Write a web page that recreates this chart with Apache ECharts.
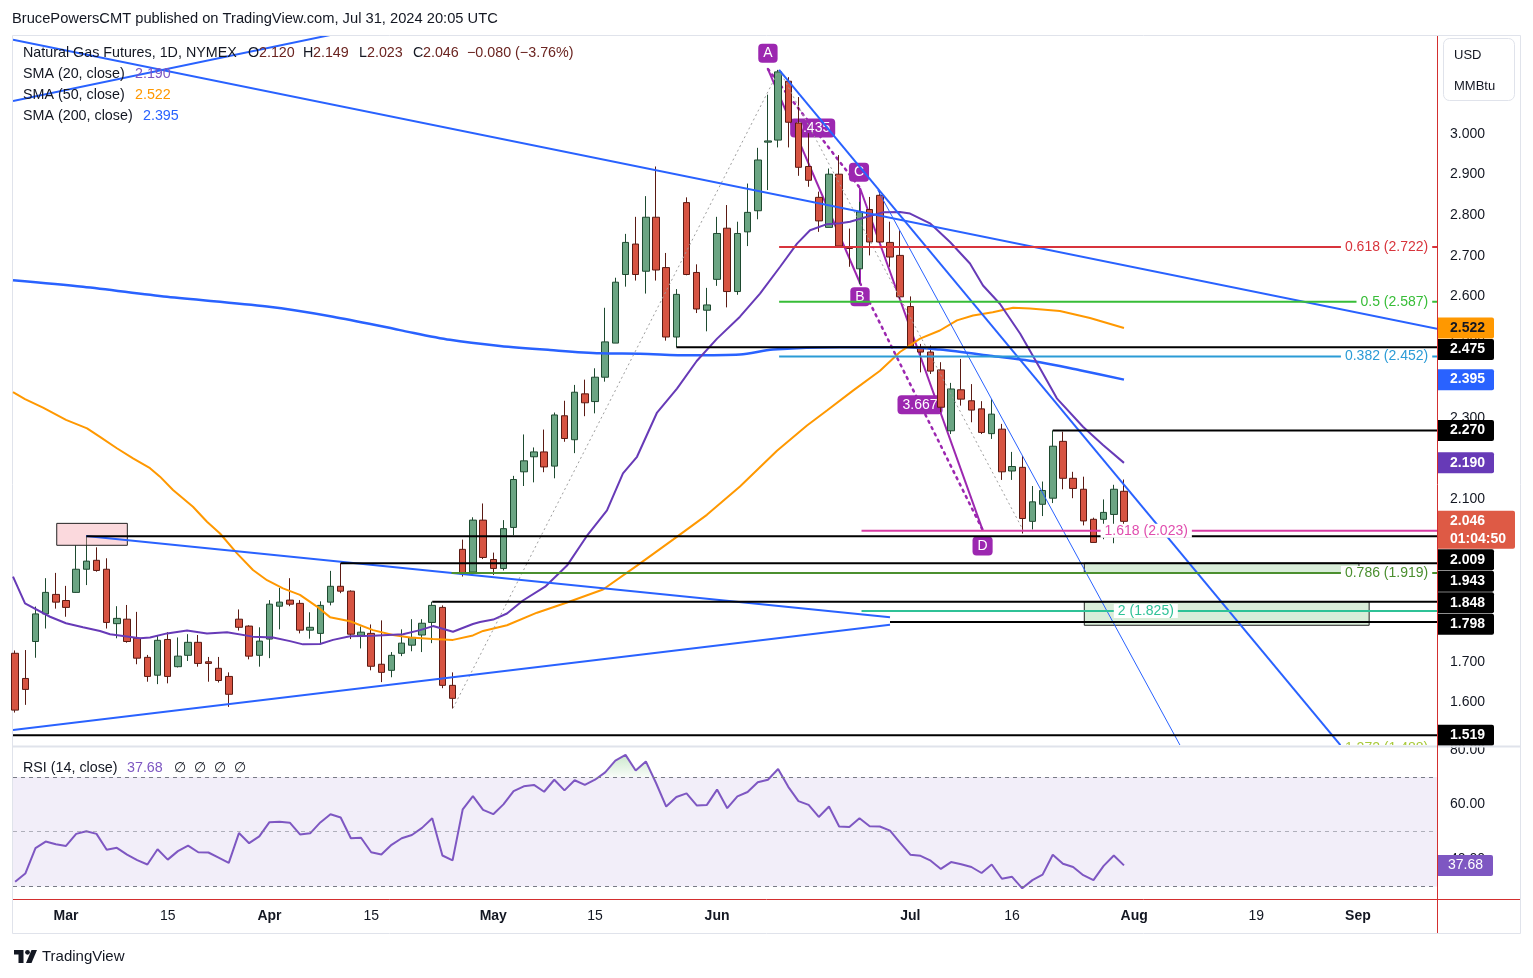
<!DOCTYPE html>
<html><head><meta charset="utf-8">
<script src="https://cdn.jsdelivr.net/npm/echarts@6/dist/echarts.min.js"></script>
<style>html,body{margin:0;padding:0;background:#fff;}#c{width:1533px;height:978px;}</style>
</head><body><div id="c"></div>
<script>
const FONT = '"Liberation Sans", Arial, sans-serif';
// ---------- data ----------
const xLabelIdx  = [5, 15, 25, 35, 47, 57, 69, 88, 98, 110, 122, 132];
const xLabelText = ['Mar','15','Apr','15','May','15','Jun','Jul','16','Aug','19','Sep'];
const monthLabels = ['Mar','Apr','May','Jun','Jul','Aug','Sep'];
const priceTicks = [1.6,1.7,1.8,1.9,2.0,2.1,2.2,2.3,2.4,2.5,2.6,2.7,2.8,2.9,3.0];
const rsiTicks = [40, 60, 80];
// daily bars, index 0 = Feb 23 2024 ... 109 = Jul 31 2024 : [open, high, low, close]
const ohlc = [
[1.721,1.728,1.575,1.581],[1.659,1.729,1.594,1.632],[1.750,1.836,1.710,1.818],[1.818,1.906,1.782,1.871],
[1.866,1.919,1.831,1.847],[1.851,1.887,1.811,1.834],[1.871,1.987,1.870,1.928],[1.928,2.009,1.889,1.948],
[1.950,1.982,1.922,1.925],[1.928,1.955,1.782,1.797],[1.794,1.837,1.758,1.807],[1.805,1.840,1.747,1.750],
[1.758,1.823,1.694,1.709],[1.711,1.717,1.651,1.664],[1.667,1.766,1.645,1.753],[1.755,1.773,1.647,1.664],
[1.688,1.760,1.686,1.714],[1.716,1.768,1.702,1.748],[1.748,1.766,1.688,1.696],[1.700,1.712,1.651,1.696],
[1.684,1.712,1.649,1.654],[1.664,1.674,1.589,1.620],[1.805,1.829,1.777,1.785],[1.788,1.790,1.706,1.714],
[1.716,1.785,1.688,1.751],[1.756,1.852,1.709,1.842],[1.837,1.882,1.780,1.847],[1.852,1.906,1.837,1.842],
[1.844,1.852,1.770,1.778],[1.778,1.822,1.757,1.785],[1.770,1.849,1.746,1.839],[1.847,1.924,1.839,1.886],
[1.886,1.943,1.869,1.874],[1.874,1.876,1.756,1.768],[1.765,1.787,1.733,1.773],[1.770,1.792,1.679,1.689],
[1.694,1.802,1.650,1.674],[1.679,1.724,1.662,1.716],[1.721,1.780,1.714,1.746],[1.741,1.805,1.726,1.760],
[1.766,1.805,1.724,1.795],[1.797,1.848,1.746,1.839],[1.834,1.839,1.635,1.642],[1.642,1.674,1.585,1.610],
[1.977,2.001,1.910,1.917],[1.921,2.056,1.917,2.049],[2.049,2.090,1.953,1.957],[1.952,1.969,1.914,1.930],
[1.930,2.049,1.925,2.028],[2.031,2.158,2.012,2.149],[2.168,2.260,2.133,2.195],[2.205,2.228,2.142,2.217],
[2.217,2.272,2.167,2.180],[2.182,2.314,2.152,2.308],[2.306,2.343,2.242,2.250],[2.247,2.382,2.214,2.364],
[2.360,2.395,2.305,2.338],[2.341,2.423,2.312,2.401],[2.401,2.572,2.390,2.488],[2.485,2.646,2.485,2.635],
[2.654,2.754,2.624,2.733],[2.729,2.796,2.639,2.654],[2.662,2.847,2.607,2.795],[2.795,2.920,2.639,2.665],
[2.671,2.707,2.491,2.500],[2.500,2.618,2.475,2.605],[2.831,2.844,2.652,2.654],[2.659,2.679,2.559,2.569],
[2.566,2.621,2.514,2.579],[2.642,2.796,2.626,2.755],[2.768,2.825,2.573,2.612],[2.612,2.784,2.604,2.755],
[2.759,2.878,2.724,2.807],[2.811,2.966,2.790,2.936],[2.980,3.097,2.862,2.983],[2.985,3.158,2.967,3.153],
[3.130,3.140,2.967,3.029],[3.027,3.091,2.897,2.918],[2.920,3.002,2.870,2.886],[2.844,2.858,2.759,2.786],
[2.770,2.915,2.770,2.901],[2.901,2.948,2.722,2.724],[2.722,2.767,2.673,2.718],[2.668,2.833,2.631,2.808],
[2.814,2.845,2.701,2.734],[2.849,2.862,2.732,2.734],[2.733,2.784,2.673,2.697],[2.701,2.763,2.594,2.599],
[2.575,2.600,2.477,2.477],[2.473,2.483,2.413,2.463],[2.463,2.479,2.409,2.416],[2.419,2.438,2.315,2.327],
[2.269,2.387,2.261,2.372],[2.370,2.446,2.331,2.347],[2.343,2.384,2.290,2.320],[2.323,2.342,2.261,2.265],
[2.262,2.347,2.249,2.310],[2.273,2.286,2.148,2.168],[2.170,2.217,2.148,2.181],[2.179,2.207,2.016,2.053],
[2.046,2.133,2.026,2.094],[2.088,2.144,2.059,2.122],[2.103,2.270,2.091,2.231],[2.243,2.267,2.125,2.152],
[2.152,2.168,2.103,2.127],[2.125,2.156,2.036,2.047],[2.051,2.055,1.994,1.994],[2.051,2.100,2.002,2.068],
[2.063,2.136,1.992,2.125],[2.120,2.149,2.023,2.046]
];
// moving averages: [bar index, value]
const sma20 = [[-0.21,1.910],[0.97,1.844],[3.43,1.811],[5,1.795],[6.67,1.785],[8.34,1.776],[9.33,1.768],[12.27,1.758],[13.26,1.760],[14.93,1.770],[16.9,1.777],[18.86,1.770],[20.83,1.773],[23.38,1.762],[25.35,1.760],[27.02,1.751],[28.3,1.743],[29.97,1.744],[31.25,1.754],[32.92,1.763],[35.18,1.764],[38.13,1.768],[39.8,1.778],[41.08,1.788],[43.04,1.774],[45,1.793],[45.7,1.798],[47,1.804],[48.35,1.819],[49.92,1.851],[52.1,1.885],[54.25,1.937],[56.2,2.010],[58.18,2.073],[59.75,2.164],[61.13,2.205],[63.1,2.314],[65.06,2.373],[67,2.441],[69,2.496],[71.25,2.550],[73.22,2.607],[75.2,2.673],[76.86,2.730],[78.14,2.763],[79.8,2.778],[81.1,2.780],[82.07,2.784],[83.74,2.796],[85.31,2.807],[86.98,2.808],[87.97,2.804],[89.93,2.780],[91.9,2.734],[93.86,2.681],[95.14,2.627],[96.8,2.582],[98.8,2.508],[100.7,2.425],[102.4,2.349],[104.97,2.279],[106.94,2.234],[109,2.190]];
const sma50 = [[-0.21,2.364],[0.97,2.347],[2.74,2.326],[5,2.296],[7.07,2.275],[8.34,2.254],[10,2.226],[11.59,2.201],[13.26,2.177],[14.24,2.156],[15.52,2.123],[17.48,2.082],[18.86,2.045],[20.14,2.016],[21.81,1.967],[23.38,1.926],[24.76,1.901],[26.33,1.881],[28,1.865],[29.67,1.836],[30.95,1.810],[32.92,1.800],[35.18,1.778],[37.14,1.766],[38.81,1.760],[41.08,1.756],[43.04,1.754],[45,1.765],[46,1.776],[48.35,1.790],[51.3,1.821],[54.25,1.846],[57.79,1.878],[61.13,1.937],[64.67,2.001],[68,2.062],[71.25,2.132],[74.89,2.220],[77.84,2.282],[79.8,2.319],[82.36,2.368],[85.02,2.417],[86.98,2.463],[88.95,2.496],[90.9,2.516],[92.58,2.541],[94.16,2.553],[96.1,2.561],[98.1,2.572],[99.76,2.570],[102.7,2.564],[105.66,2.547],[109,2.522]];
const sma200 = [[-0.21,2.640],[6.67,2.624],[14.93,2.599],[24.76,2.575],[31.25,2.550],[37.83,2.517],[42.75,2.493],[47.66,2.478],[52.58,2.468],[57.5,2.460],[61.4,2.459],[66.34,2.455],[71.25,2.457],[74.5,2.469],[81.08,2.475],[87.67,2.475],[90.9,2.469],[95.83,2.454],[100.74,2.438],[104.67,2.418],[109,2.395]];
const rsi = [31.7,34.7,44.0,46.4,45.4,44.8,49.2,50.2,49.2,43.4,44.1,41.6,39.6,38.0,43.6,39.8,42.9,44.9,42.5,42.4,
40.5,38.6,49.5,45.8,48.3,53.5,53.6,53.3,49.0,49.4,53.4,56.4,55.2,47.6,47.8,42.5,41.7,45.2,47.6,48.8,
51.4,54.9,41.3,39.5,58.2,63.0,58.0,56.4,60.0,64.8,66.6,67.1,64.6,69.0,65.1,68.8,67.1,69.0,71.7,76.0,
78.1,72.4,75.7,67.8,59.2,62.7,64.0,59.6,59.8,65.4,58.6,62.9,64.5,68.1,69.0,72.9,66.4,61.2,59.8,55.4,
59.2,51.9,51.7,54.9,52.0,51.9,50.4,45.9,41.6,41.2,39.4,36.4,38.9,38.1,37.1,34.9,38.0,32.8,33.5,29.3,
32.3,34.3,41.6,38.3,37.1,34.1,32.3,37.5,41.3,37.68];
// drawings: [index1, price1, index2, price2]
const blueTrend = [[-0.21,3.081,31,3.244],[-0.21,3.232,139.77,2.52],[-0.21,1.532,86.0,1.791],[6.97,2.010,86.0,1.810],[75.1,3.158,131,1.473]];
const blueThin = [[84.8,2.862,115,1.472]];
const grayDotted = [[43.05,1.586,75.1,3.158],[75.1,3.158,99.07,2.025]];
const patternSolid = [[74.0,3.160,83.05,2.633],[83.05,2.633,83.05,2.867],[83.05,2.867,95.1,2.025]];
const patternDotted = [[74.0,3.160,83.05,2.867],[83.05,2.633,95.1,2.025]];
const patternLabelPos = [[74.0,3.199],[78.4,3.015],[82.95,2.906],[83.05,2.599],[88.95,2.333],[95.1,1.985]];
const patternLabelText = ['A','0.435','C','B','3.667','D'];
const pinkRect = [[4.09,2.041,11.03,1.987]];
const greenRects = [[105.1,1.943,132.1,1.919],[105.1,1.848,133.1,1.790]];
// horizontal levels: [price, start index]
const blackLevels = [[2.475,65],[2.270,102],[2.009,7],[1.943,32],[1.848,41],[1.798,86],[1.519,-0.21]];
const fibLevels = [[2.722,75.1],[2.587,75.1],[2.452,75.1],[1.919,42.9],[2.023,83.2],[1.825,83.2]];
const fibColors = ['#D8343C','#37BD37','#2B9BD6','#4B8F2F','#D83CA4','#2FC297'];
const fibLabelText = ['0.618 (2.722)','0.5 (2.587)','0.382 (2.452)','0.786 (1.919)','1.618 (2.023)','2 (1.825)','1.272 (1.488)'];
const fibLabelPos = [[139.3,2.722],[139.3,2.587],[139.3,2.452],[139.3,1.919],[106.7,2.023],[108.0,1.825],[139.3,1.488]];
const fibLabelAlign = ['right','right','right','right','left','left','right'];
const fibLabelColors = ['#D8343C','#37BD37','#2B9BD6','#4B8F2F','#E04DAE','#2FC297','#A8C93A'];
// right axis price tags
const tagValues = [2.522,2.475,2.395,2.270,2.190,2.046,2.009,1.943,1.848,1.798,1.519];
const tagBg = ['#FF9800','#000000','#2962FF','#000000','#673AB7','#DE5A45','#000000','#000000','#000000','#000000','#000000'];
const tagFg = ['#131722','#ffffff','#ffffff','#ffffff','#ffffff','#ffffff','#ffffff','#ffffff','#ffffff','#ffffff','#ffffff'];
const countdownText = '01:04:50';
const rsiTag = [37.68];

// ---------- scales ----------
const XMIN = -0.21, XMAX = 139.77, PMIN = 1.4951, PMAX = 3.2414, RMIN = 25.4, RMAX = 80.6;

function segSeries(data, style, z) {
  return {type:'custom', xAxisIndex:0, yAxisIndex:0, clip:true, silent:true, z, data,
    renderItem:(p, api) => {
      const a = api.coord([api.value(0), api.value(1)]), b = api.coord([api.value(2), api.value(3)]);
      return {type:'line', shape:{x1:a[0], y1:a[1], x2:b[0], y2:b[1]}, style:Object.assign({stroke:'#000', lineWidth:1, fill:null}, style)};
    }};
}
function rectSeries(data, style, z) {
  return {type:'custom', xAxisIndex:0, yAxisIndex:0, clip:true, silent:true, z, data,
    renderItem:(p, api) => {
      const a = api.coord([api.value(0), api.value(1)]), b = api.coord([api.value(2), api.value(3)]);
      return {type:'rect', shape:{x:a[0], y:a[1], width:b[0]-a[0], height:b[1]-a[1]}, style:Object.assign({}, style)};
    }};
}
function levelSeries(data, colors, width, z) {
  return {type:'custom', xAxisIndex:0, yAxisIndex:0, clip:true, silent:true, z, data,
    renderItem:(p, api) => {
      const a = api.coord([api.value(1), api.value(0)]), b = api.coord([XMAX, api.value(0)]);
      const c = Array.isArray(colors) ? colors[p.dataIndex] : colors;
      return {type:'line', shape:{x1:a[0], y1:a[1], x2:b[0], y2:b[1]}, style:{stroke:c, lineWidth:width}};
    }};
}

const series = [];
series.push(segSeries(patternSolid, {stroke:'#9C27B0', lineWidth:2}, 2));
series.push(segSeries(patternDotted, {stroke:'#9C27B0', lineWidth:2.5, lineDash:[2,5], lineCap:'round'}, 2));
series.push({type:'custom', xAxisIndex:0, yAxisIndex:0, clip:true, silent:true, z:2, data:patternLabelPos,
  renderItem:(p, api) => {
    const a = api.coord([api.value(0), api.value(1)]);
    return {type:'text', style:{text:patternLabelText[p.dataIndex], x:a[0], y:a[1], align:'center', verticalAlign:'middle',
      fill:'#fff', font:'14px ' + FONT, backgroundColor:'#9C27B0', padding:[3,5,2,5], borderRadius:4}};
  }});
series.push({type:'candlestick', xAxisIndex:0, yAxisIndex:0, z:3, barWidth:7,
  data: ohlc.map((d, i) => [i, d[0], d[3], d[2], d[1]]), encode:{x:0, y:[1,2,3,4]},
  itemStyle:{color:'#6BA583', color0:'#D75442', borderColor:'#1E4A30', borderColor0:'#5B1A13', borderWidth:1}});
series.push({type:'line', xAxisIndex:0, yAxisIndex:0, z:4, data:sma200, showSymbol:false, silent:true, smooth:0.3, lineStyle:{color:'#2962FF', width:2.5}});
series.push({type:'line', xAxisIndex:0, yAxisIndex:0, z:4, data:sma50, showSymbol:false, silent:true, lineStyle:{color:'#FF9800', width:2}});
series.push({type:'line', xAxisIndex:0, yAxisIndex:0, z:4, data:sma20, showSymbol:false, silent:true, lineStyle:{color:'#673AB7', width:2}});
series.push(rectSeries(pinkRect, {fill:'rgba(246,160,170,0.4)', stroke:'#222', lineWidth:1}, 5));
series.push(rectSeries(greenRects, {fill:'rgba(120,190,120,0.28)', stroke:'#222', lineWidth:1}, 5));
series.push(segSeries(grayDotted, {stroke:'#9E9E9E', lineWidth:1, lineDash:[2,3]}, 5));
series.push(segSeries(blueTrend, {stroke:'#2962FF', lineWidth:2}, 6));
series.push(segSeries(blueThin, {stroke:'#2962FF', lineWidth:1}, 6));
series.push(levelSeries(fibLevels, fibColors, 2, 6));
series.push(levelSeries(blackLevels, '#000000', 2, 6));
series.push({type:'custom', xAxisIndex:0, yAxisIndex:0, clip:true, silent:true, z:7, data:fibLabelPos,
  renderItem:(p, api) => {
    const a = api.coord([api.value(0), api.value(1)]);
    return {type:'text', style:{text:fibLabelText[p.dataIndex], x:a[0], y:a[1], align:fibLabelAlign[p.dataIndex], verticalAlign:'middle',
      fill:fibLabelColors[p.dataIndex], font:'14px ' + FONT, backgroundColor:'#fff', padding:[0,4]}};
  }});
// price tags on the right axis
series.push({type:'custom', xAxisIndex:0, yAxisIndex:0, clip:false, silent:true, z:10, data:tagValues.map(v => [XMAX, v]),
  renderItem:(p, api) => {
    const ys = tagValues.map(v => api.coord([XMAX, v])[1]);
    const x0 = api.coord([XMAX, tagValues[0]])[0] + 1;
    const hOf = k => tagValues[k] === 2.046 ? 38 : 21;
    const order = ys.map((y, k) => k).sort((a, b) => ys[a] - ys[b]);
    const tops = []; let prev = -1e9;
    order.forEach(k => { let t = ys[k] - 10.5; if (t < prev + 0.5) t = prev + 0.5; tops[k] = t; prev = t + hOf(k); });
    const i = p.dataIndex, top = tops[i], big = tagValues[i] === 2.046;
    const ch = [
      {type:'rect', shape:{x:x0, y:top, width: big ? 77 : 56, height:hOf(i), r:[0,2,2,0]}, style:{fill:tagBg[i]}},
      {type:'text', style:{text:tagValues[i].toFixed(3), x:x0 + 12, y:top + 10.5, verticalAlign:'middle', fill:tagFg[i], font:'bold 14px ' + FONT}}
    ];
    if (big) ch.push({type:'text', style:{text:countdownText, x:x0 + 12, y:top + 28, verticalAlign:'middle', fill:'#fff', font:'bold 14px ' + FONT}});
    return {type:'group', children:ch};
  }});
// RSI pane
series.push({type:'custom', xAxisIndex:1, yAxisIndex:1, clip:true, silent:true, z:2, data:[[0, 70]],
  renderItem:(p, api) => {
    const pts = [];
    for (let i = 0; i < rsi.length; i++) {
      const v = rsi[i];
      if (i > 0) { const u = rsi[i-1]; if ((u - 70) * (v - 70) < 0) { const t = (70 - u) / (v - u); pts.push(api.coord([i - 1 + t, 70])); } }
      pts.push(api.coord([i, Math.max(v, 70)]));
    }
    pts.push(api.coord([rsi.length - 1, 70])); pts.push(api.coord([0, 70]));
    const top = api.coord([0, 80])[1], bot = api.coord([0, 70])[1];
    return {type:'polygon', shape:{points:pts}, style:{fill:new echarts.graphic.LinearGradient(0, top, 0, bot, [{offset:0, color:'rgba(76,175,80,0.35)'},{offset:1, color:'rgba(76,175,80,0.04)'}], true)}};
  }});
series.push({type:'line', xAxisIndex:1, yAxisIndex:1, z:3, silent:true, showSymbol:false,
  data: rsi.map((v, i) => [i, v]), lineStyle:{color:'#7E57C2', width:2},
  markArea:{silent:true, itemStyle:{color:'rgba(126,87,194,0.1)'}, data:[[{yAxis:30},{yAxis:70}]]},
  markLine:{silent:true, symbol:'none', label:{show:false}, animation:false,
    data:[{yAxis:70, lineStyle:{color:'#787B86', type:[4,4], width:1}},
          {yAxis:50, lineStyle:{color:'rgba(120,123,134,0.55)', type:[4,4], width:1}},
          {yAxis:30, lineStyle:{color:'#787B86', type:[4,4], width:1}}]}});
series.push({type:'custom', xAxisIndex:1, yAxisIndex:1, clip:false, silent:true, z:10, data:rsiTag.map(v => [XMAX, v]),
  renderItem:(p, api) => {
    const a = api.coord([XMAX, rsiTag[p.dataIndex]]);
    return {type:'group', children:[
      {type:'rect', shape:{x:a[0] + 1, y:a[1] - 10.5, width:55, height:21, r:[0,2,2,0]}, style:{fill:'#7E57C2'}},
      {type:'text', style:{text:rsiTag[p.dataIndex].toFixed(2), x:a[0] + 28.5, y:a[1], align:'center', verticalAlign:'middle', fill:'#fff', font:'14px ' + FONT}}
    ]};
  }});

const txt = (x, y, text, color, size, weight) => ({type:'text', silent:true, z:20, style:{x, y, text, fill:color || '#131722',
  font:(weight || 'normal') + ' ' + (size || 14.3) + 'px ' + FONT, verticalAlign:'middle'}});
const VAL = '#6B2420';
const graphic = [
  {type:'rect', silent:true, z:-10, shape:{x:12.5, y:35.5, width:1508, height:898}, style:{fill:null, stroke:'#E0E3EB', lineWidth:1}},
  {type:'line', silent:true, z:20, shape:{x1:13, y1:746.5, x2:1520, y2:746.5}, style:{stroke:'#E0E3EB', lineWidth:2}},
  {type:'line', silent:true, z:20, shape:{x1:1437.5, y1:36, x2:1437.5, y2:933}, style:{stroke:'#D32F2F', lineWidth:1}},
  {type:'line', silent:true, z:20, shape:{x1:13, y1:899.5, x2:1520, y2:899.5}, style:{stroke:'#D32F2F', lineWidth:1}},
  {type:'rect', silent:true, z:20, shape:{x:1443.5, y:38.5, width:71, height:62, r:6}, style:{fill:'#fff', stroke:'#E0E3EB', lineWidth:1}},
  txt(1454, 55, 'USD', '#131722', 13), txt(1454, 86, 'MMBtu', '#131722', 13),
  txt(12, 19, 'BrucePowersCMT published on TradingView.com, Jul 31, 2024 20:05 UTC', '#131722', 14.7),
  txt(23, 53, 'Natural Gas Futures, 1D, NYMEX'),
  txt(248, 53, 'O'), txt(259, 53, '2.120', VAL), txt(303, 53, 'H'), txt(313, 53, '2.149', VAL),
  txt(359, 53, 'L'), txt(367, 53, '2.023', VAL), txt(413, 53, 'C'), txt(423, 53, '2.046', VAL),
  txt(467, 53, '\u22120.080 (\u22123.76%)', VAL),
  txt(23, 74, 'SMA (20, close)'), txt(135, 74, '2.190', '#7E57C2'),
  txt(23, 95, 'SMA (50, close)'), txt(135, 95, '2.522', '#FF9800'),
  txt(23, 116, 'SMA (200, close)'), txt(143, 116, '2.395', '#2962FF'),
  txt(23, 768, 'RSI (14, close)'), txt(127, 768, '37.68', '#7E57C2'),
  txt(174, 768, '\u2205'), txt(194, 768, '\u2205'), txt(214, 768, '\u2205'), txt(234, 768, '\u2205'),
  {type:'polygon', silent:true, z:20, shape:{points:[[14,950],[23.5,950],[23.5,963],[18.5,963],[18.5,954.5],[14,954.5]]}, style:{fill:'#131722'}},
  {type:'circle', silent:true, z:20, shape:{cx:27.5, cy:952.3, r:2.4}, style:{fill:'#131722'}},
  {type:'polygon', silent:true, z:20, shape:{points:[[31.5,950],[37,950],[31.5,963],[26,963]]}, style:{fill:'#131722'}},
  txt(42, 957, 'TradingView', '#131722', 15)
];

const axisOff = {axisLine:{show:false}, axisTick:{show:false}, splitLine:{show:false}};
const option = {
  animation:false, backgroundColor:'#ffffff',
  grid:[{left:13, top:36, width:1424, height:709}, {left:13, top:748, width:1424, height:151}],
  xAxis:[
    Object.assign({type:'value', gridIndex:0, min:XMIN, max:XMAX, axisLabel:{show:false}}, axisOff),
    Object.assign({type:'value', gridIndex:1, min:XMIN, max:XMAX,
      axisLabel:{customValues:xLabelIdx, margin:10, color:'#131722', fontSize:14, fontFamily:FONT,
        formatter:v => { const t = xLabelText[xLabelIdx.indexOf(v)]; return monthLabels.indexOf(t) >= 0 ? '{m|' + t + '}' : '{d|' + t + '}'; },
        rich:{m:{fontWeight:'bold', fontSize:14, fontFamily:FONT, color:'#131722'}, d:{fontSize:14, fontFamily:FONT, color:'#131722'}}}}, axisOff)
  ],
  yAxis:[
    Object.assign({type:'value', gridIndex:0, position:'right', min:PMIN, max:PMAX,
      axisLabel:{customValues:priceTicks, formatter:v => v.toFixed(3), margin:13, color:'#131722', fontSize:14, fontFamily:FONT}}, axisOff),
    Object.assign({type:'value', gridIndex:1, position:'right', min:RMIN, max:RMAX,
      axisLabel:{customValues:rsiTicks, formatter:v => v.toFixed(2), margin:13, color:'#131722', fontSize:14, fontFamily:FONT}}, axisOff)
  ],
  series, graphic
};
const chart = echarts.init(document.getElementById('c'));
chart.setOption(option);
</script></body></html>
